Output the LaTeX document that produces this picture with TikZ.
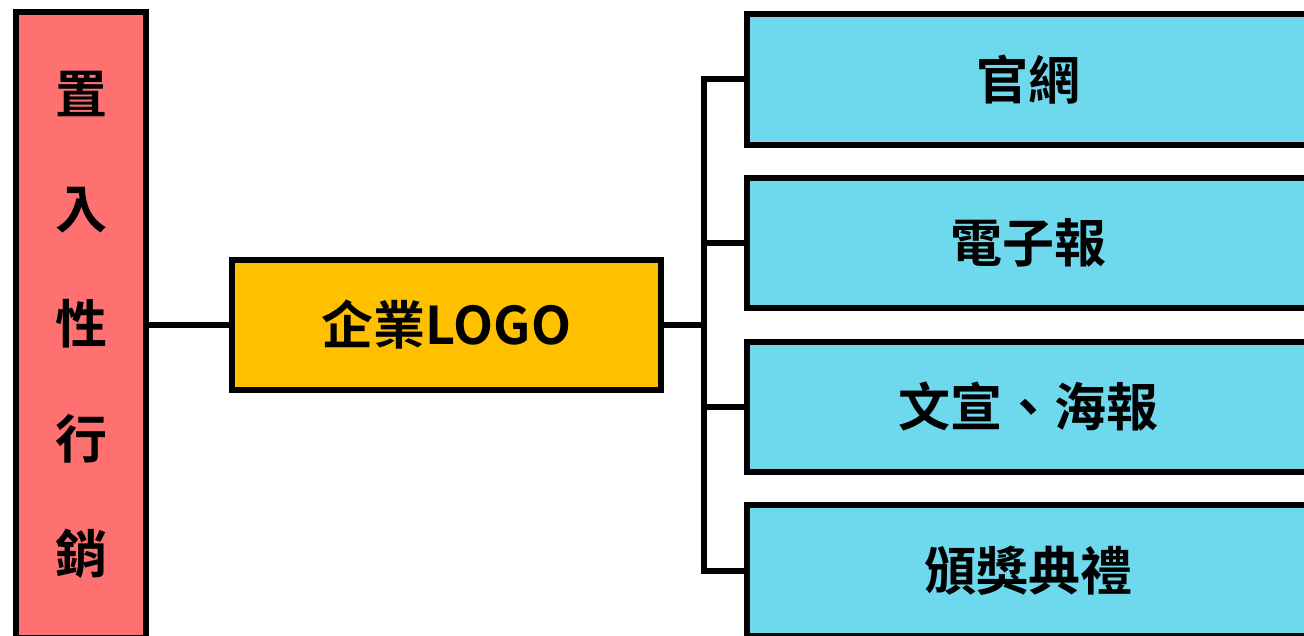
\documentclass[tikz,border=0pt]{standalone}
\usepackage{fontspec}
\setmainfont{Noto Sans CJK TC}[BoldFont={Noto Sans CJK TC Bold}]
\definecolor{redbox}{HTML}{FF7070}
\definecolor{goldbox}{HTML}{FFC000}
\definecolor{bluebox}{HTML}{6ED8EC}
\begin{document}
\begin{tikzpicture}[x=1pt,y=-1pt,
  line width=6pt,
  boxstyle/.style={draw=black, line width=6pt, inner sep=0pt, anchor=center,
    font=\fontsize{52}{115}\selectfont\bfseries, align=center},
  bluestyle/.style={boxstyle, fill=bluebox, minimum width=563pt, minimum height=130.4pt},
  conn/.style={draw=black, line width=6pt}]
\useasboundingbox (0,0) rectangle (1304,636);
\node[boxstyle, fill=redbox, minimum width=130pt, minimum height=625pt] (red) at (81,325) {置\\入\\性\\行\\銷};
\node[boxstyle, fill=goldbox, minimum width=429pt, minimum height=130pt] (gold) at (446.5,325) {企業LOGO};
\node[bluestyle] (b1) at (1028.5,79.5) {官網};
\node[bluestyle] (b2) at (1028.5,243) {電子報};
\node[bluestyle] (b3) at (1028.5,407) {文宣、海報};
\node[bluestyle] (b4) at (1028.5,570.5) {頒獎典禮};
\coordinate (bx) at (704,0);
\draw[conn] (red.east) -- (gold.west);
\draw[conn] (gold.east) -- (gold.east -| bx);
\draw[conn] (b1.west) -- (b1.west -| bx) -- (b4.west -| bx) -- (b4.west);
\draw[conn] (b2.west) -- (b2.west -| bx);
\draw[conn] (b3.west) -- (b3.west -| bx);
\end{tikzpicture}
\end{document}
